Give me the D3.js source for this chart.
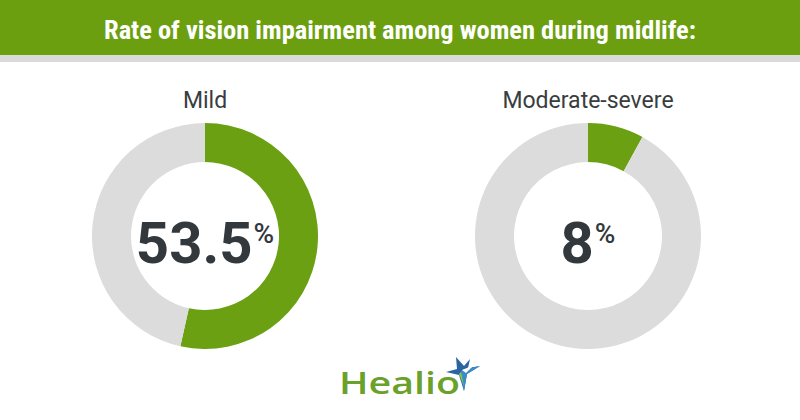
<!DOCTYPE html>
<html><head><meta charset="utf-8">
<script src="https://cdn.jsdelivr.net/npm/d3@7"></script>
<style>html,body{margin:0;padding:0;background:#fff;}svg{display:block;}</style>
</head><body><svg id="c" width="800" height="420"></svg>
<script>
const title = "Rate of vision impairment among women during midlife:";
const categories = ["Mild", "Moderate-severe"];
const values = [53.5, 8];
const valueLabels = ["53.5", "8"];
const brand = "Healio";

const W = 800, H = 420;
const green = "#6aa012", grey = "#dcdcdc", dark = "#33383d";
const svg = d3.select("#c");
svg.append("rect").attr("width", W).attr("height", H).attr("fill", "#fff");
svg.append("rect").attr("x",0).attr("y",0).attr("width",W).attr("height",55).attr("fill","#6c9f10");
svg.append("rect").attr("x",0).attr("y",55).attr("width",W).attr("height",7).attr("fill","#dadada");
svg.append("text").attr("x",W/2).attr("y",39).attr("text-anchor","middle")
  .attr("font-family","'Liberation Sans Narrow','Roboto Condensed',Roboto,sans-serif")
  .attr("font-weight","bold").attr("font-size",25).attr("fill","#fff")
  .attr("textLength",592).attr("lengthAdjust","spacingAndGlyphs").text(title);

const x = d3.scalePoint().domain(categories).range([205, 588]);
const cy = 236, rOuter = 113, rInner = 74;
const pie = d3.pie().sort(null).value(d => d);
const arc = d3.arc().innerRadius(rInner).outerRadius(rOuter);

categories.forEach((cat, i) => {
  const g = svg.append("g").attr("transform", `translate(${x(cat)},${cy})`);
  const arcs = pie([values[i], 100 - values[i]]);
  g.selectAll("path").data(arcs).join("path")
    .attr("d", arc).attr("fill", (d, j) => j === 0 ? green : grey);
  svg.append("text").attr("x", x(cat)).attr("y", 108).attr("text-anchor","middle")
    .attr("font-family","Roboto,sans-serif").attr("font-size",23).attr("fill","#3a3d40").text(cat);
  const t = g.append("text").attr("y", 27).attr("text-anchor","middle")
    .attr("font-family","Roboto,sans-serif").attr("font-weight","bold").attr("fill",dark);
  t.append("tspan").attr("font-size",58).text(valueLabels[i]);
  t.append("tspan").attr("font-size",28).attr("font-weight","500").attr("dx",1).attr("dy",-20).text("%");
});

// Healio logo
svg.append("text").attr("x",339).attr("y",394).attr("font-family","'Open Sans',sans-serif")
  .attr("font-size",31).attr("font-weight",600).attr("fill","#6aa12a")
  .attr("textLength",121).attr("lengthAdjust","spacingAndGlyphs").text(brand);
const star = svg.append("g");
const pts = [[456,357],[464,366],[470,359],[468,368],[480,366],[467,374],[464,391],[459,375],[446,372],[457,369]];
star.append("path").attr("d", d3.line()(pts) + "Z").attr("fill","#2a64a4");
star.append("path").attr("d", d3.line()([[462,370],[480,366],[467,374],[464,391],[460,374]]) + "Z").attr("fill","#3a8cc6");
star.append("path").attr("d", d3.line()([[462,370],[474,365],[466,373]]) + "Z").attr("fill","#fff");
star.append("path").attr("d", d3.line()([[461,372],[464,386],[459,374]]) + "Z").attr("fill","#8dc63f");
</script></body></html>
